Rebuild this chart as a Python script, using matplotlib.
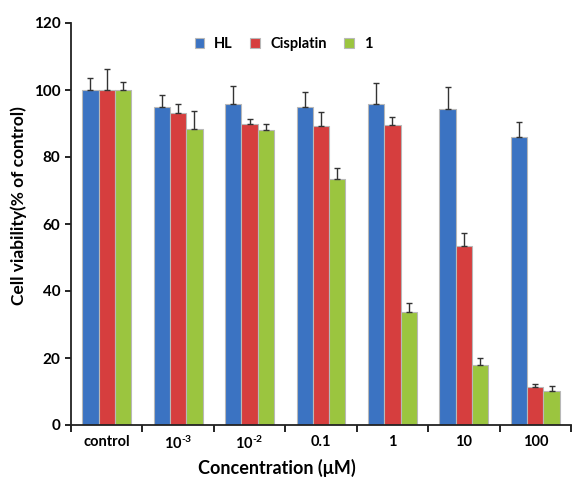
import matplotlib
matplotlib.use("Agg")
import matplotlib.pyplot as plt
import numpy as np

categories = ["control", "10$^{\u20103}$", "10$^{\u20102}$", "0.1", "1", "10", "100"]
series_names = ["HL", "Cisplatin", "1"]
hl = [100.0, 95.0, 95.9, 95.0, 95.7, 94.4, 85.9]
hl_err = [3.6, 3.6, 5.3, 4.3, 6.3, 6.4, 4.6]
cis = [100.0, 93.0, 89.9, 89.4, 89.6, 53.4, 11.3]
cis_err = [6.3, 2.7, 1.5, 3.9, 2.4, 3.9, 0.8]
cmp1 = [100.0, 88.4, 88.0, 73.4, 33.6, 18.0, 10.1]
cmp1_err = [2.4, 5.2, 1.9, 3.2, 2.7, 1.9, 1.5]

colors = ["#3B73C2", "#D63E3E", "#9BC53F"]

plt.rcParams['font.family'] = ['Lato', 'DejaVu Sans']
plt.rcParams['font.weight'] = 'bold'
plt.rcParams['mathtext.fontset'] = 'custom'
plt.rcParams['mathtext.rm'] = 'Lato:bold'
plt.rcParams['mathtext.it'] = 'Lato:bold'
plt.rcParams['mathtext.bf'] = 'Lato:bold'
plt.rcParams['mathtext.default'] = 'rm'

fig = plt.figure(figsize=(5.72, 4.8), dpi=100)
ax = fig.add_axes([71/572, 1-425/480, 500/572, 402/480])

x = np.arange(len(categories))
w = 0.228
data = [(hl, hl_err), (cis, cis_err), (cmp1, cmp1_err)]
for i, ((vals, errs), c, name) in enumerate(zip(data, colors, series_names)):
    pos = x + (i - 1) * w
    ax.bar(pos, vals, width=w, color=c, edgecolor="#b8b8b8", linewidth=0.8,
           label=name, zorder=2)
    ax.errorbar(pos, vals, yerr=[np.zeros(len(errs)), errs], fmt='none',
                ecolor="#333333", elinewidth=1.0, capsize=2.5, capthick=1.0, zorder=3)

ax.set_xlim(-0.5, len(categories) - 0.5)
ax.set_ylim(0, 120)
ax.set_yticks(np.arange(0, 121, 20))
ax.set_xticks(x)
ax.set_xticklabels(categories, fontsize=10.5, fontweight='bold')
ax.set_xticks(np.arange(-0.5, len(categories), 1.0), minor=True)
ax.tick_params(axis='x', which='major', length=0, pad=7)
ax.tick_params(axis='x', which='minor', length=5, width=1.2, direction='out')
ax.tick_params(axis='y', length=4, width=1.2, direction='out', labelsize=11)
for lbl in ax.get_yticklabels():
    lbl.set_fontweight('bold')
for s in ['top', 'right']:
    ax.spines[s].set_visible(False)
for s in ['left', 'bottom']:
    ax.spines[s].set_linewidth(1.3)
    ax.spines[s].set_color("#222222")

ax.set_ylabel("Cell viability(% of control)", fontsize=12.5, fontweight='bold')
ax.yaxis.set_label_coords(-0.088, 0.545)
ax.set_xlabel("Concentration (μM)", fontsize=13, fontweight='bold')
ax.xaxis.set_label_coords(0.412, -0.085)

leg = ax.legend(loc='center', bbox_to_anchor=(0.425, 0.948), ncol=3, frameon=False,
                handlelength=0.65, handleheight=0.65, handletextpad=0.7, columnspacing=1.2,
                prop={'weight': 'bold', 'size': 10.5})

fig.savefig("out.png", dpi=100)
